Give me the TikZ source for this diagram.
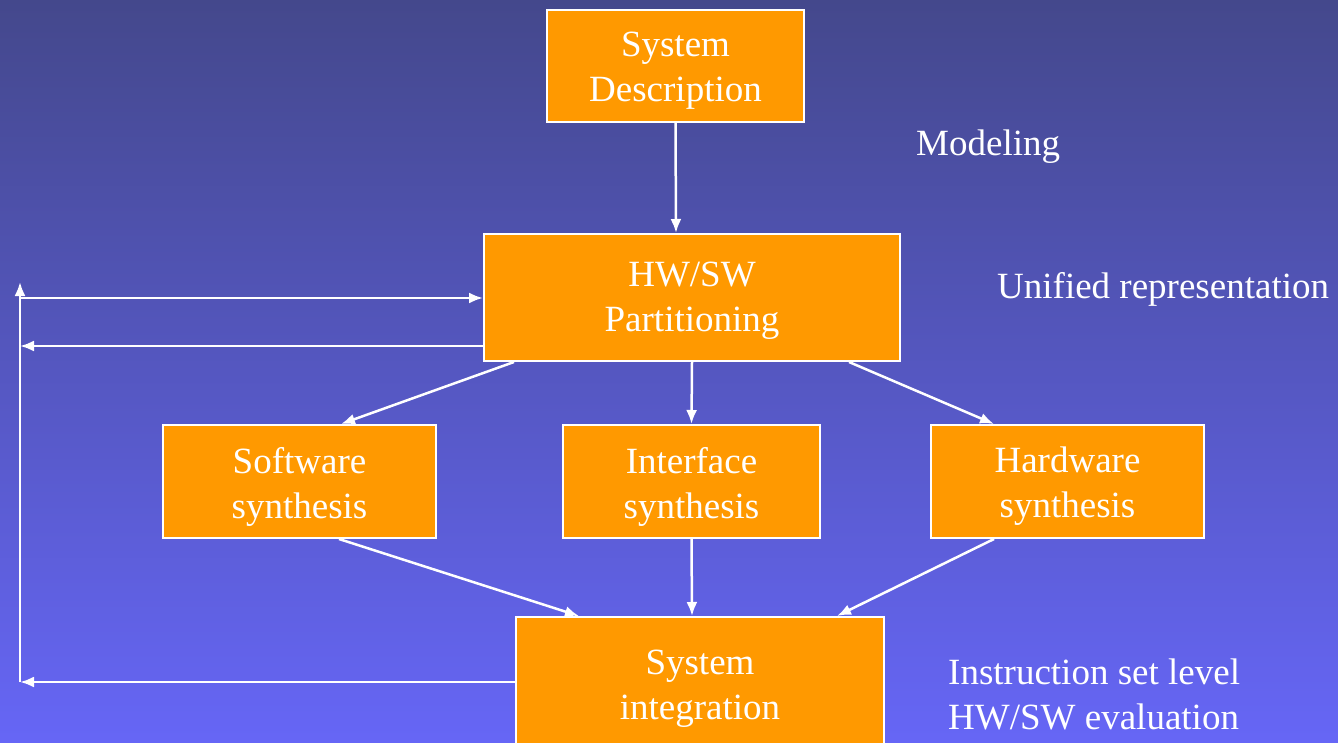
\documentclass[tikz,border=0pt]{standalone}
\usepackage{fontspec}
\setmainfont{Liberation Serif}
\usetikzlibrary{arrows.meta}
\definecolor{bgtop}{RGB}{68,72,140}
\definecolor{bgbot}{RGB}{102,102,246}
\definecolor{boxorange}{RGB}{255,153,0}
\tikzset{
  procbox/.style={draw=white, line width=2pt, fill=boxorange, inner sep=0pt},
  boxtext/.style={text=white, align=center, inner sep=0pt, font=\fontsize{37}{45}\selectfont},
  lbl/.style={text=white, anchor=west, align=left, inner sep=0pt, font=\fontsize{37}{45}\selectfont},
  arr/.style={draw=white, line width=2.5pt, -{Latex[length=14pt,width=11pt]}},
  plain/.style={draw=white, line width=2.5pt}
}
\begin{document}
\begin{tikzpicture}[x=1pt,y=-1pt]
\clip (0,0) rectangle (1338,743);
\useasboundingbox (0,0) rectangle (1338,743);
\shade[top color=bgtop, bottom color=bgbot] (0,0) rectangle (1338,743);

\node[procbox, minimum width=257pt, minimum height=112pt] (sd) at (675.5,66) {};
\node[procbox, minimum width=416pt, minimum height=127pt] (hw) at (692,297.5) {};
\node[procbox, minimum width=273pt, minimum height=113pt] (sw) at (299.5,481.5) {};
\node[procbox, minimum width=257pt, minimum height=113pt] (if) at (691.5,481.5) {};
\node[procbox, minimum width=273pt, minimum height=113pt] (hs) at (1067.5,481.5) {};
\node[procbox, minimum width=368pt, minimum height=134pt] (si) at (700,684) {};

\node[boxtext] (sdt) at ([yshift=-5pt]sd.center) {System\\Description};
\node[boxtext] (hwt) at ([yshift=-3pt]hw.center) {HW/SW\\Partitioning};
\node[boxtext] (swt) at ([yshift=-5pt]sw.center) {Software\\synthesis};
\node[boxtext] (ift) at ([yshift=-5pt]if.center) {Interface\\synthesis};
\node[boxtext] (hst) at ([yshift=-5pt]hs.center) {Hardware\\synthesis};
\node[boxtext] (sit) at ([yshift=-5pt]si.center) {System\\integration};

\node[lbl] (mod) at (916,147) {Modeling};
\node[lbl] (uni) at (997,289) {Unified representation};
\node[lbl] (ins) at (948,694) {Instruction set level\\HW/SW evaluation};

\draw[arr] (sd.south) -- ([xshift=-16pt]hw.north);

\coordinate (lb) at (20,682);
\coordinate (lt) at (20,282);
\coordinate (lh) at (20,298);
\coordinate (lm) at (20,346);
\draw[plain] ([yshift=0pt]lb) -- ([yshift=1.25pt]lb);
\draw[arr] (lb) -- (lt);
\draw[arr] (lh) -- (hw.west |- lh);
\draw[arr] (hw.west |- lm) -- (lm);
\draw[arr] (si.west |- lb) -- (lb);

\draw[arr] ([xshift=31pt]hw.south west) -- ([xshift=179pt]sw.north west);
\draw[arr] (hw.south) -- (if.north);
\draw[arr] ([xshift=366pt]hw.south west) -- ([xshift=64pt]hs.north west);

\draw[arr] ([xshift=177pt]sw.south west) -- ([xshift=64pt]si.north west);
\draw[arr] (if.south) -- ([xshift=-8pt]si.north);
\draw[arr] ([xshift=64pt]hs.south west) -- ([xshift=322pt]si.north west);
\end{tikzpicture}
\end{document}
